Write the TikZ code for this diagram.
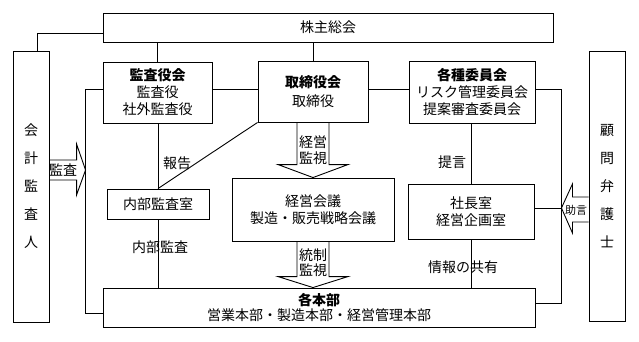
\documentclass[tikz,border=0pt]{standalone}
\usepackage{fontspec}
\setmainfont{Noto Sans CJK JP}
\usetikzlibrary{calc}

\newcommand{\boxfont}{\fontsize{14}{17}\selectfont}
\newcommand{\tatefont}{\fontsize{14}{28}\selectfont}
\newcommand{\smallfont}{\fontsize{11}{13}\selectfont}

\begin{document}
\begin{tikzpicture}[x=1pt,y=-1pt,line width=0.9pt,
  box/.style={draw,align=center,inner sep=0pt,font=\boxfont},
  lbl/.style={inner sep=0pt,align=center,font=\boxfont},
  blk/.style={draw,line join=miter}]
\useasboundingbox (0,0) rectangle (639,341);
% boxes
\node[box,minimum width=450,minimum height=29] (gsm) at (328,27.5) {株主総会};
\node[box,minimum width=36,minimum height=271,font=\tatefont] (aud) at (31,186.5) {会\\計\\監\\査\\人};
\node[box,minimum width=36,minimum height=270,font=\tatefont] (law) at (607,186) {顧\\問\\弁\\護\\士};
\node[box,minimum width=109,minimum height=61] (ksy) at (157.5,92.5) {\textbf{監査役会}\\監査役\\社外監査役};
\node[box,minimum width=110,minimum height=61] (bod) at (313,91.5) {\textbf{取締役会}\\[2pt]取締役};
\node[box,minimum width=126,minimum height=62] (cmt) at (472,92) {\textbf{各種委員会}\\リスク管理委員会\\提案審査委員会};
\node[box,minimum width=102,minimum height=30] (nai) at (158,204) {内部監査室};
\node[box,minimum width=162,minimum height=63] (mtg) at (313,209.5) {経営会議\\製造・販売戦略会議};
\node[box,minimum width=126,minimum height=55] (pres) at (471,211.5) {社長室\\経営企画室};
\node[box,minimum width=432,minimum height=39] (div) at (319,307.5) {\textbf{各本部}\\[-2pt]営業本部・製造本部・経営管理本部};
% connectors
\draw (ksy.north) -- (ksy.north |- gsm.south);
\draw (bod.north) -- (bod.north |- gsm.south);
\draw ([yshift=-5.5]gsm.west) -| ([xshift=6]aud.north);
\draw ($(ksy.east)+(0,-3.5)$) -- ($(bod.west)+(0,-2.5)$);
\draw ($(bod.east)+(0,-2.5)$) -- ($(cmt.west)+(0,-3)$);
\draw ($(ksy.west)+(0,-3.5)$) -- ++(-17,0) coordinate (lj) |- ($(div.west)+(0,5.5)$);
\draw ($(cmt.east)+(0,-3)$) -- ++(26,0) coordinate (rj) |- ($(div.east)+(0,-4.5)$);
\draw ($(pres.east)+(0,-3.5)$) coordinate (pe) -- (pe -| rj) coordinate (jt);
\draw (nai.north) -- (nai.north |- ksy.south);
\draw (nai.south) -- (nai.south |- div.north);
\draw (bod.south west) -- (nai.north);
\draw (pres.north) -- (pres.north |- cmt.south);
\draw (pres.south) -- (pres.south |- div.north);
% block arrows
\draw[blk] ($(bod.south)+(-16,0)$) -- ($(mtg.north)+(-16,-13)$) -- ($(mtg.north)+(-35,-13)$) -- (mtg.north)
  -- ($(mtg.north)+(35,-13)$) -- ($(mtg.north)+(16,-13)$) -- ($(bod.south)+(16,0)$);
\coordinate (t2) at (mtg.south |- div.north);
\draw[blk] ($(mtg.south)+(-16,0)$) -- ($(t2)+(-16,-11)$) -- ($(t2)+(-35,-11)$) -- (t2)
  -- ($(t2)+(35,-11)$) -- ($(t2)+(16,-11)$) -- ($(mtg.south)+(16,0)$);
\coordinate (at) at (lj |- 0,170);
\draw[blk] ($(aud.east |- at)+(0,-10)$) -- ($(at)+(-9,-10)$) -- ($(at)+(-9,-26)$) -- (at)
  -- ($(at)+(-9,25)$) -- ($(at)+(-9,10)$) -- ($(aud.east |- at)+(0,10)$);
\draw[blk] ($(law.west |- jt)+(0,-11)$) -- ($(jt)+(11,-11)$) -- ($(jt)+(11,-24)$) -- (jt)
  -- ($(jt)+(11,25)$) -- ($(jt)+(11,14)$) -- ($(law.west |- jt)+(0,14)$);
% labels
\node[lbl] (hk) at (177,163) {報告};
\node[lbl] (nk) at (160,247) {内部監査};
\node[lbl] (tg) at (452,162) {提言};
\node[lbl] (jh) at (463,267) {情報の共有};
\node[lbl] (kk) at (313,150) {経営\\[-1pt]監視};
\node[lbl] (ts) at (313,263) {統制\\[-2pt]監視};
\node[lbl] (ks) at (63,170) {監査};
\node[lbl,font=\smallfont] (jg) at (576,210) {助言};
\end{tikzpicture}
\end{document}
